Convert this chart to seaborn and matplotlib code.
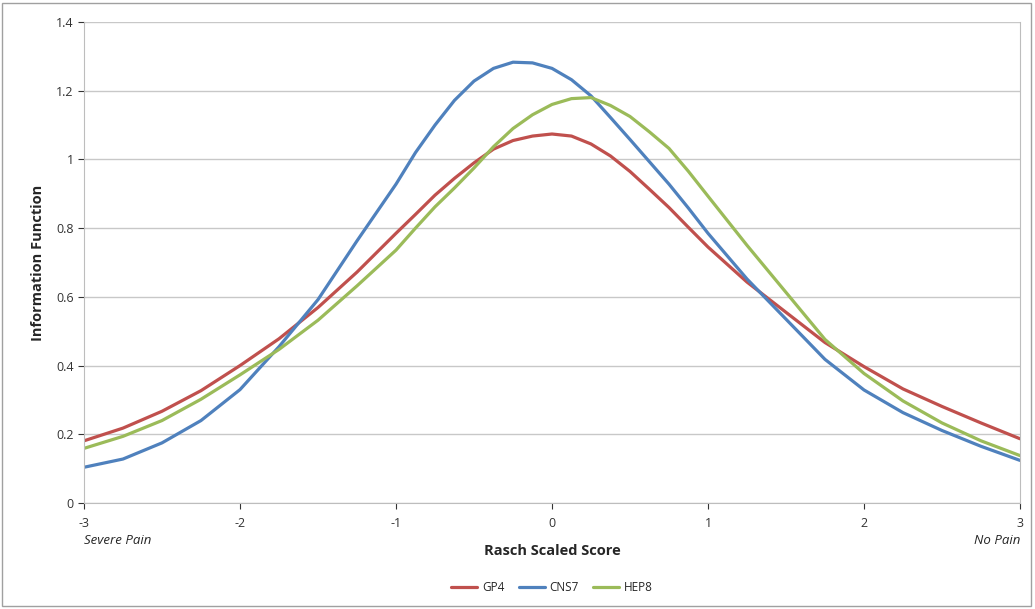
import matplotlib
matplotlib.use("Agg")
import matplotlib.pyplot as plt
import seaborn as sns
import pandas as pd

# values
score = [-3, -2.75, -2.5, -2.25, -2, -1.75, -1.5, -1.25, -1, -0.875, -0.75, -0.625,
         -0.5, -0.375, -0.25, -0.125, 0, 0.125, 0.25, 0.375, 0.5, 0.625, 0.75, 0.875,
         1, 1.25, 1.5, 1.75, 2, 2.25, 2.5, 2.75, 3]
gp4 = [0.181, 0.218, 0.267, 0.327, 0.400, 0.478, 0.569, 0.672, 0.785, 0.840, 0.896, 0.945,
       0.990, 1.030, 1.055, 1.068, 1.074, 1.068, 1.045, 1.010, 0.965, 0.913, 0.860, 0.802,
       0.745, 0.643, 0.555, 0.467, 0.397, 0.332, 0.281, 0.233, 0.187]
cns7 = [0.104, 0.128, 0.175, 0.240, 0.330, 0.455, 0.592, 0.763, 0.928, 1.020, 1.100, 1.172,
        1.228, 1.265, 1.283, 1.281, 1.265, 1.232, 1.185, 1.122, 1.058, 0.993, 0.928, 0.858,
        0.785, 0.652, 0.535, 0.418, 0.329, 0.263, 0.211, 0.165, 0.124]
hep8 = [0.159, 0.194, 0.240, 0.302, 0.373, 0.447, 0.532, 0.632, 0.736, 0.800, 0.862, 0.917,
        0.975, 1.037, 1.090, 1.130, 1.160, 1.177, 1.180, 1.157, 1.125, 1.080, 1.032, 0.965,
        0.893, 0.750, 0.613, 0.476, 0.377, 0.297, 0.233, 0.181, 0.138]

series = ["GP4", "CNS7", "HEP8"]
colors = ["#C0504D", "#4F81BD", "#9BBB59"]

df = pd.DataFrame({"score": score * 3,
                   "info": gp4 + cns7 + hep8,
                   "test": [s for s in series for _ in score]})

sns.set_style("white")
plt.rcParams["font.family"] = ["Open Sans", "DejaVu Sans"]
plt.rcParams["axes.unicode_minus"] = False

fig = plt.figure(figsize=(10.35, 6.09), dpi=100)
ax = fig.add_axes([84 / 1035, 1 - 503 / 609, 936 / 1035, 481 / 609])

sns.lineplot(data=df, x="score", y="info", hue="test", palette=colors,
             linewidth=2.3, ax=ax, legend=True)

ax.set_xlim(-3, 3)
ax.set_ylim(0, 1.4)
ax.set_xticks(range(-3, 4))
ax.set_yticks([0, 0.2, 0.4, 0.6, 0.8, 1.0, 1.2, 1.4])
ax.set_yticklabels(["0", "0.2", "0.4", "0.6", "0.8", "1", "1.2", "1.4"])
ax.yaxis.grid(True, color="#c8c8c8", linewidth=1)
ax.xaxis.grid(False)
ax.tick_params(axis="both", labelsize=9, colors="#333333", length=4,
               direction="out", width=0.8)
ax.tick_params(axis="x", pad=6, bottom=True)
ax.tick_params(axis="y", left=True)
for side in ["left", "bottom", "right"]:
    ax.spines[side].set_color("#bdbdbd")
ax.spines["top"].set_visible(False)

ax.set_xlabel("Rasch Scaled Score", fontsize=10.5, fontweight="bold", labelpad=10)
ax.set_ylabel("Information Function", fontsize=10.5, fontweight="bold", labelpad=8)

ax.text(0, -0.077, "Severe Pain", transform=ax.transAxes, style="italic",
        fontsize=9.5, ha="left", va="center")
ax.text(1, -0.077, "No Pain", transform=ax.transAxes, style="italic",
        fontsize=9.5, ha="right", va="center")

handles, labels = ax.get_legend_handles_labels()
ax.legend(handles, labels, loc="center", bbox_to_anchor=(0.5, -0.175),
          ncol=3, frameon=False, fontsize=8.5, handlelength=2.2,
          handletextpad=0.4, columnspacing=1.2)

fig.patches.append(plt.Rectangle((0.002, 0.005), 0.994, 0.99, transform=fig.transFigure,
                                 fill=False, edgecolor="#a0a0a0", linewidth=1))

fig.savefig("out.png", dpi=100)
